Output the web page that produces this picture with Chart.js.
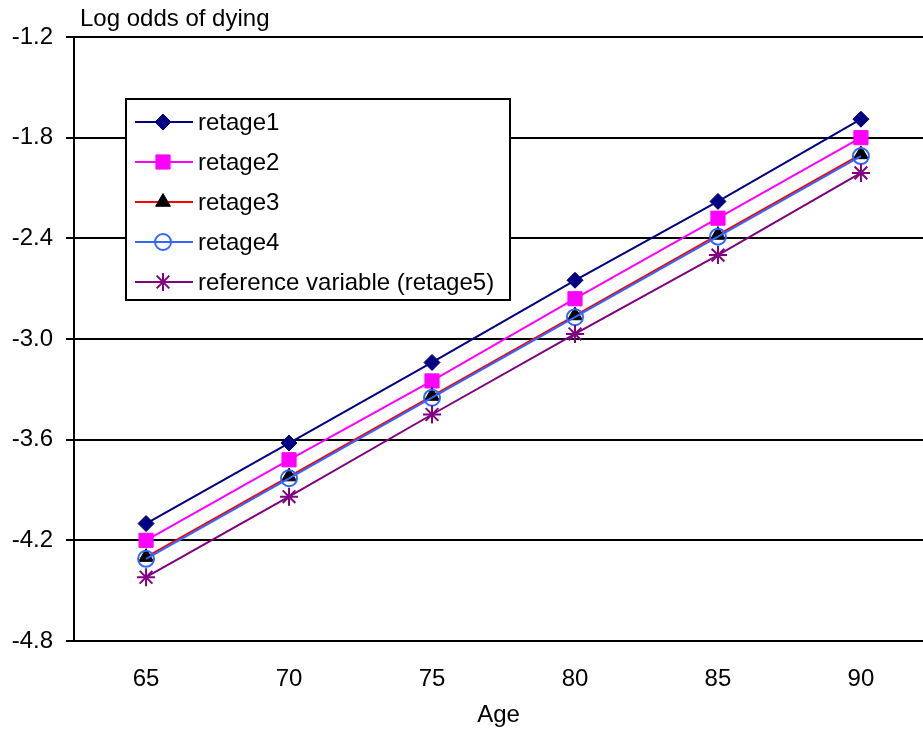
<!DOCTYPE html>
<html lang="en">
  <head>
    <meta charset="UTF-8" />
    <title>Log odds of dying by age</title>
    <script src="https://cdn.jsdelivr.net/npm/chart.js"></script>
    <style>
      body {
        margin: 0;
        background: #fff;
        overflow: hidden;
      }
      .wrap {
        width: 934px;
        height: 733px;
      }
    </style>
  </head>
  <body>
    <div class="wrap">
      <canvas id="chart" width="934" height="733"></canvas>
    </div>

    <script>
      // values
      const ages = [65, 70, 75, 80, 85, 90];
      const seriesNames = [
        "retage1",
        "retage2",
        "retage3",
        "retage4",
        "reference variable (retage5)",
      ];
      const retage1 = [-4.1, -3.62, -3.14, -2.65, -2.18, -1.69];
      const retage2 = [-4.2, -3.72, -3.25, -2.76, -2.28, -1.8];
      const retage3 = [-4.3, -3.82, -3.34, -2.86, -2.38, -1.9];
      const retage4 = [-4.31, -3.83, -3.35, -2.87, -2.39, -1.91];
      const retage5 = [-4.42, -3.94, -3.45, -2.97, -2.5, -2.01];
      const yTicks = [-4.8, -4.2, -3.6, -3.0, -2.4, -1.8, -1.2];

      const FONT = "'Liberation Sans', Arial, sans-serif";

      const styles = [
        { line: "#000080", fill: "#000080", point: "rectRot", r: 8, bw: 1 },
        { line: "#ff00ff", fill: "#ff00ff", point: "rect", r: 10, bw: 1 },
        { line: "#ff0000", fill: "#000000", edge: "#000000", point: "triangle", r: 8.5, bw: 1 },
        { line: "#3366ff", fill: "rgba(0,0,0,0)", point: "circle", r: 8, bw: 2 },
        { line: "#800080", fill: "#800080", point: "star", r: 9, bw: 2 },
      ];

      const values = [retage1, retage2, retage3, retage4, retage5];

      const datasets = values.map((vals, i) => ({
        label: seriesNames[i],
        data: vals.map((v, j) => ({ x: ages[j], y: v })),
        borderColor: styles[i].line,
        borderWidth: 2,
        pointStyle: styles[i].point,
        pointRadius: styles[i].r,
        pointBackgroundColor: styles[i].fill,
        pointBorderColor: styles[i].edge || styles[i].line,
        pointBorderWidth: styles[i].bw,
        tension: 0,
        order: values.length - i, // later series on top, like the original
      }));

      // legend box inside the plot, plus the y title at the top-left
      const extras = {
        id: "extras",
        afterDraw(chart) {
          const ctx = chart.ctx;
          const area = chart.chartArea;
          ctx.save();
          ctx.font = "24px " + FONT;
          ctx.fillStyle = "#000";
          ctx.textBaseline = "middle";
          ctx.textAlign = "left";
          ctx.fillText("Log odds of dying", area.left + 6, area.top - 18);

          const bx = 126, by = 99, bw = 384, bh = 201;
          ctx.fillStyle = "#fff";
          ctx.fillRect(bx, by, bw, bh);
          ctx.strokeStyle = "#000";
          ctx.lineWidth = 2;
          ctx.strokeRect(bx, by, bw, bh);

          chart.data.datasets.forEach((ds, i) => {
            const y = 122 + i * 40;
            ctx.strokeStyle = ds.borderColor;
            ctx.lineWidth = 2;
            ctx.beginPath();
            ctx.moveTo(135, y);
            ctx.lineTo(193, y);
            ctx.stroke();
            ctx.fillStyle = ds.pointBackgroundColor;
            ctx.strokeStyle = ds.pointBorderColor;
            ctx.lineWidth = ds.pointBorderWidth;
            Chart.helpers.drawPoint(
              ctx,
              { pointStyle: ds.pointStyle, radius: ds.pointRadius, borderWidth: ds.pointBorderWidth, rotation: 0 },
              163,
              y
            );
            ctx.fillStyle = "#000";
            ctx.fillText(ds.label, 198, y + 1);
          });
          ctx.restore();
        },
      };

      new Chart(document.getElementById("chart"), {
        type: "line",
        data: { datasets },
        options: {
          responsive: false,
          animation: false,
          layout: { padding: { top: 37, right: 0, left: 0, bottom: 0 } },
          plugins: {
            legend: { display: false },
            tooltip: { enabled: false },
          },
          scales: {
            x: {
              type: "linear",
              min: 62.48,
              max: 92.17,
              afterBuildTicks: (scale) => {
                scale.ticks = ages.map((a) => ({ value: a }));
              },
              afterFit: (scale) => {
                scale.height = 92;
              },
              grid: { display: false, drawTicks: false },
              border: { display: true, color: "#000", width: 2 },
              ticks: {
                color: "#000",
                font: { family: FONT, size: 24 },
                padding: 24,
                maxRotation: 0,
              },
              title: {
                display: true,
                text: "Age",
                color: "#000",
                font: { family: FONT, size: 24 },
                padding: { top: 0, bottom: 3 },
              },
            },
            y: {
              min: -4.8,
              max: -1.2,
              afterBuildTicks: (scale) => {
                scale.ticks = yTicks.map((v) => ({ value: v }));
              },
              afterFit: (scale) => {
                scale.width = 74;
              },
              grid: {
                color: "#000",
                lineWidth: 2,
                drawTicks: true,
                tickLength: 8,
              },
              border: { display: true, color: "#000", width: 2 },
              ticks: {
                color: "#000",
                font: { family: FONT, size: 24 },
                padding: 13,
                callback: (v) => Number(v).toFixed(1),
              },
            },
          },
        },
        plugins: [extras],
      });
    </script>
  </body>
</html>
